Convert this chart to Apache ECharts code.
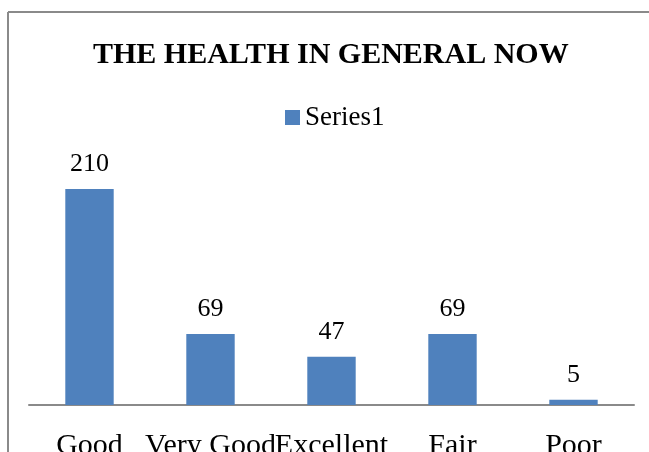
<!DOCTYPE html>
<html>
<head>
<meta charset="utf-8">
<script src="https://cdn.jsdelivr.net/npm/echarts@6/dist/echarts.min.js"></script>
<style>
  html, body { margin: 0; padding: 0; background: #fff; overflow: hidden; }
  #chart { width: 649px; height: 452px; }
</style>
</head>
<body>
<div id="chart"></div>
<script>
// 数据
const categories = ['Good', 'Very Good', 'Excellent', 'Fair', 'Poor'];
const series1 = [210, 69, 47, 69, 5];

const FONT = '"Liberation Serif", "Times New Roman", serif';

const chart = echarts.init(document.getElementById('chart'));

const frame = { stroke: '#8a8a8a', lineWidth: 2 };

const option = {
  animation: false,
  // 外框：只有上边和左边在画面内
  graphic: [
    { type: 'line', shape: { x1: 8, y1: 12, x2: 649, y2: 12 }, style: frame, silent: true },
    { type: 'line', shape: { x1: 8, y1: 12, x2: 8, y2: 452 }, style: frame, silent: true }
  ],
  title: {
    text: 'THE HEALTH IN GENERAL NOW',
    left: 93,
    top: 40,
    padding: 0,
    textStyle: { fontFamily: FONT, fontSize: 30, fontWeight: 'bold', color: '#000' }
  },
  legend: {
    data: ['Series1'],
    left: 285,
    top: 104,
    padding: 0,
    itemWidth: 15,
    itemHeight: 15,
    itemGap: 5,
    icon: 'rect',
    textStyle: { fontFamily: FONT, fontSize: 27, color: '#000' }
  },
  grid: { left: 29, right: 15, top: 148, bottom: 47, outerBoundsMode: 'none', containLabel: false },
  xAxis: {
    type: 'category',
    data: categories,
    axisLine: { lineStyle: { color: '#8a8a8a', width: 2 } },
    axisTick: { show: false },
    axisLabel: { fontFamily: FONT, fontSize: 30, color: '#000', margin: 26, interval: 0 }
  },
  yAxis: {
    type: 'value',
    min: 0,
    max: 250,
    show: false,
    splitLine: { show: false }
  },
  series: [{
    name: 'Series1',
    type: 'bar',
    data: series1,
    barWidth: '40%',
    itemStyle: { color: '#4F81BD' },
    label: {
      show: true,
      position: 'top',
      distance: 12,
      fontFamily: FONT,
      fontSize: 26,
      color: '#000'
    }
  }]
};

chart.setOption(option);
</script>
</body>
</html>
